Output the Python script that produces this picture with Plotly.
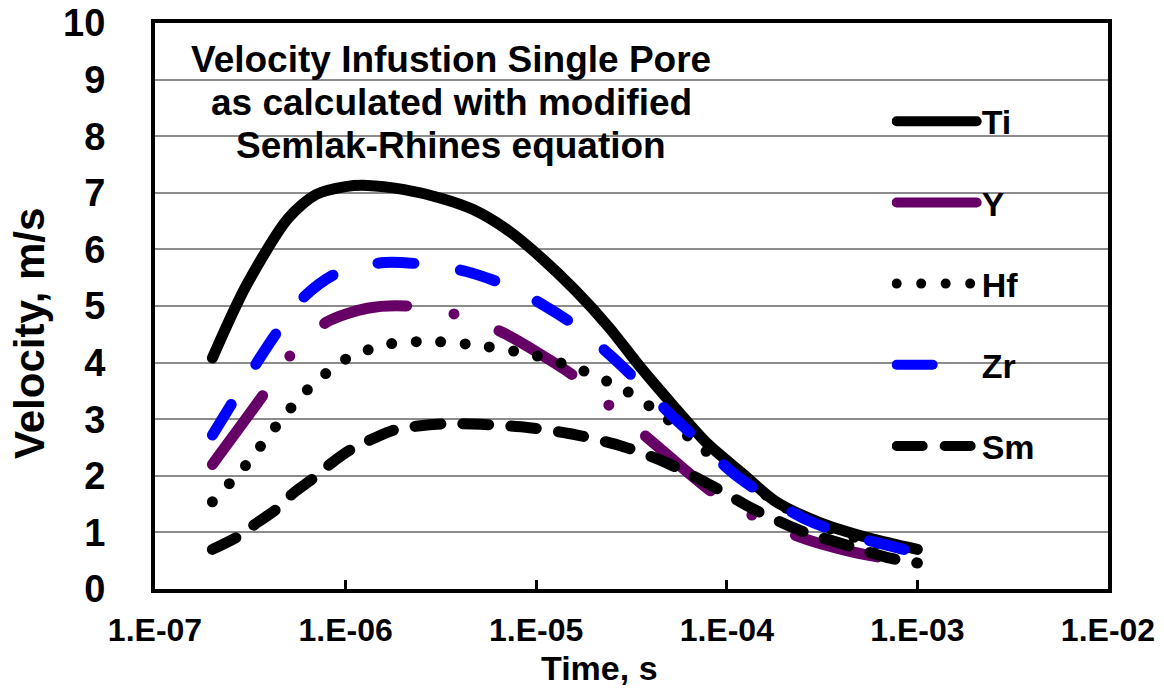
import plotly.graph_objects as go

# ---- data ----
ti_x = [2e-7, 3e-7, 5e-7, 7e-7, 1e-6, 1.3e-6, 2e-6, 3.2e-6, 4.7e-6, 7.1e-6, 1.05e-5, 1.6e-5, 2.4e-5, 3.5e-5, 5.3e-5, 7.9e-5, 1.2e-4, 1.8e-4, 3.1e-4, 5.6e-4, 1e-3]
ti_y = [4.08, 5.35, 6.55, 6.97, 7.11, 7.13, 7.06, 6.90, 6.70, 6.34, 5.87, 5.28, 4.63, 3.93, 3.22, 2.57, 2.05, 1.55, 1.17, 0.90, 0.70]

y_x = [2e-7, 3.7e-7, 5.2e-7, 8e-7, 1.3e-6, 2.1e-6, 3.8e-6, 6.5e-6, 1.05e-5, 1.6e-5, 2.5e-5, 4e-5, 8.5e-5, 1.4e-4, 2.4e-4, 4e-4, 6.6e-4, 1e-3]
y_y = [2.20, 3.43, 4.15, 4.72, 4.96, 5.00, 4.85, 4.55, 4.15, 3.75, 3.20, 2.62, 1.70, 1.28, 0.92, 0.70, 0.55, 0.48]

hf_x = [2e-7, 3e-7, 4.3e-7, 6.3e-7, 1e-6, 1.7e-6, 3e-6, 5.6e-6, 1e-5, 1.75e-5, 3e-5, 4.8e-5, 7.4e-5, 1.1e-4, 2e-4, 3e-4, 5e-4, 1e-3]
hf_y = [1.54, 2.19, 2.87, 3.52, 4.06, 4.33, 4.37, 4.28, 4.12, 3.86, 3.49, 3.02, 2.49, 2.05, 1.45, 1.15, 0.88, 0.65]

zr_x = [2e-7, 2.5e-7, 3.5e-7, 4.5e-7, 6e-7, 9e-7, 1.6e-6, 2.5e-6, 4.3e-6, 6.9e-6, 1.1e-5, 1.64e-5, 2.5e-5, 3.5e-5, 5.3e-5, 7.4e-5, 1.05e-4, 1.6e-4, 2.6e-4, 4e-4, 7e-4, 1e-3]
zr_y = [2.72, 3.25, 4.05, 4.60, 5.15, 5.58, 5.77, 5.74, 5.61, 5.37, 5.01, 4.63, 4.10, 3.63, 3.02, 2.57, 2.08, 1.64, 1.23, 0.99, 0.77, 0.64]

sm_x = [2e-7, 2.7e-7, 3.3e-7, 4.3e-7, 5.3e-7, 6.8e-7, 8.4e-7, 1.06e-6, 1.4e-6, 1.8e-6, 2.4e-6, 3.3e-6, 5.1e-6, 9.2e-6, 1.64e-5, 2.9e-5, 4.9e-5, 8.5e-5, 1.4e-4, 2.4e-4, 4.2e-4, 7.3e-4, 1e-3]
sm_y = [0.70, 0.92, 1.13, 1.40, 1.69, 1.96, 2.22, 2.46, 2.66, 2.81, 2.88, 2.92, 2.91, 2.85, 2.72, 2.51, 2.22, 1.81, 1.40, 1.04, 0.78, 0.54, 0.46]

x_tickvals = [1e-7, 1e-6, 1e-5, 1e-4, 1e-3, 1e-2]
x_ticktext = ["1.E-07", "1.E-06", "1.E-05", "1.E-04", "1.E-03", "1.E-02"]

title_lines = ["Velocity Infustion Single Pore", "as calculated with modified", "Semlak-Rhines equation"]

FONT = "Liberation Sans, Arial, sans-serif"
W = 11

series = [
    ("Ti", ti_x, ti_y, "#000000", "solid"),
    ("Y", y_x, y_y, "#660066", "85px,48px,0px,48px"),
    ("Hf", hf_x, hf_y, "#000000", "0px,24.5px"),
    ("Zr", zr_x, zr_y, "#0000FF", "36px,47px"),
    ("Sm", sm_x, sm_y, "#000000", "26px,22px"),
]

fig = go.Figure()
for name, xs, ys, col, dash in series:
    fig.add_trace(go.Scatter(
        x=xs, y=ys, name=name, mode="lines", legendgroup=name,
        line=dict(color=col, width=W, dash=dash, shape="spline", smoothing=0.8),
    ))

fig.update_layout(
    template="none",
    width=1164, height=689,
    margin=dict(l=155, r=56, t=23, b=100),
    paper_bgcolor="white", plot_bgcolor="white",
    font=dict(family=FONT, color="black", weight="bold"),
    showlegend=True,
    legend=dict(
        x=0.773, xanchor="left", y=0.877, yanchor="top",
        traceorder="grouped", tracegroupgap=34,
        font=dict(size=34, family=FONT, weight="bold"),
        itemwidth=80, bgcolor="rgba(0,0,0,0)", borderwidth=0,
    ),
)

fig.update_xaxes(
    type="log", range=[-7, -2],
    tickvals=x_tickvals, ticktext=x_ticktext,
    tickfont=dict(size=32, family=FONT, weight="bold"),
    ticks="inside", ticklen=9, tickwidth=3, tickcolor="black",
    showline=True, linecolor="black", linewidth=4, mirror=True,
    showgrid=False, zeroline=False, ticklabelstandoff=10,
)
fig.update_yaxes(
    range=[0, 10], tickmode="linear", tick0=0, dtick=1,
    tickfont=dict(size=38, family=FONT, weight="bold"),
    ticks="", showline=True, linecolor="black", linewidth=4, mirror=True,
    showgrid=True, gridcolor="#8C8C8C", gridwidth=2, griddash="solid",
    zeroline=False, ticklabelstandoff=38,
)

ann_y = [0.935, 0.859, 0.783]
for t, yy in zip(title_lines, ann_y):
    fig.add_annotation(text=t, xref="paper", yref="paper", x=0.311, y=yy,
                       xanchor="center", yanchor="middle", showarrow=False,
                       font=dict(size=37, family=FONT, weight="bold"))

fig.add_annotation(text="Time, s", xref="paper", yref="paper", x=(599 - 155) / 953, y=(589 - 668) / 566,
                   xanchor="center", yanchor="middle", showarrow=False,
                   font=dict(size=34, family=FONT, weight="bold"))
fig.add_annotation(text="Velocity, m/s", xref="paper", yref="paper", x=(29 - 155) / 953, y=(589 - 334) / 566,
                   xanchor="center", yanchor="middle", showarrow=False, textangle=-90,
                   font=dict(size=42, family=FONT, weight="bold"))

css = ("var s=document.createElement('style');"
       "s.innerHTML='.js-line, .legendlines path{stroke-linecap:round !important;stroke-linejoin:round !important;}';"
       "document.head.appendChild(s);")
fig.write_html("out.html", post_script=css)
